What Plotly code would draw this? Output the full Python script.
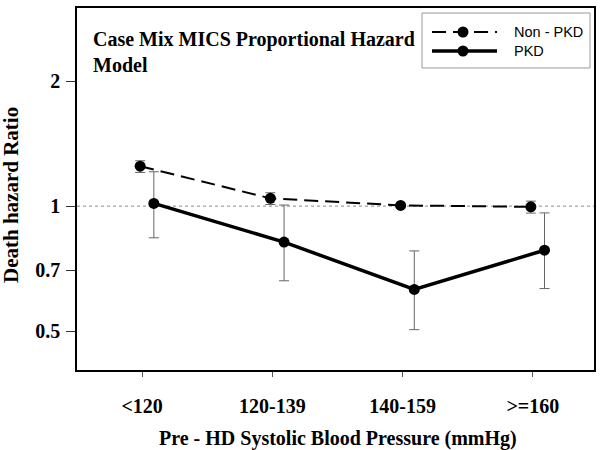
import plotly.graph_objects as go
import numpy as np

categories = ["<120", "120-139", "140-159", ">=160"]
non_pkd = [1.248, 1.044, 1.004, 0.996]
non_pkd_hi = [1.286, 1.077, 1.010, 1.028]
non_pkd_lo = [1.205, 1.009, 0.998, 0.962]
pkd = [1.015, 0.819, 0.630, 0.783]
pkd_hi = [1.21, 1.006, 0.78, 0.963]
pkd_lo = [0.839, 0.661, 0.504, 0.633]
y_ticks = [0.5, 0.7, 1, 2]
series_names = ["Non - PKD", "PKD"]

pos = np.arange(len(categories))
x_non = pos - 0.015
x_pkd = pos + 0.09

serif = "Liberation Serif, Times New Roman, serif"
sans = "Liberation Sans, Arial, sans-serif"
NON_DASH = "14px,7px"
fig = go.Figure()

fig.add_trace(go.Scatter(
    x=[-0.5, 3.6], y=[1, 1], mode="lines",
    line=dict(color="#888888", width=1, dash="dot"),
    showlegend=False, hoverinfo="skip"))

fig.add_trace(go.Scatter(
    x=x_non, y=non_pkd, mode="lines+markers", name=series_names[0],
    line=dict(color="black", width=2, dash=NON_DASH),
    marker=dict(color="black", size=11), showlegend=False,
    error_y=dict(type="data", symmetric=False,
                 array=[h - v for h, v in zip(non_pkd_hi, non_pkd)],
                 arrayminus=[v - l for l, v in zip(non_pkd_lo, non_pkd)],
                 color="#666666", thickness=1, width=5)))

fig.add_trace(go.Scatter(
    x=x_pkd, y=pkd, mode="lines+markers", name=series_names[1],
    line=dict(color="black", width=3.5),
    marker=dict(color="black", size=11), showlegend=False,
    error_y=dict(type="data", symmetric=False,
                 array=[h - v for h, v in zip(pkd_hi, pkd)],
                 arrayminus=[v - l for l, v in zip(pkd_lo, pkd)],
                 color="#666666", thickness=1, width=5)))

# Title
fig.add_annotation(
    text="Case Mix MICS Proportional Hazard<br>Model",
    xref="paper", yref="paper", x=0.027, y=0.95,
    xanchor="left", yanchor="top", align="left", showarrow=False,
    font=dict(family=serif, size=20, color="black", weight="bold"))

# Y axis title
fig.add_annotation(
    text="Death hazard Ratio", textangle=-90,
    xref="paper", yref="paper", x=-0.128, y=0.483,
    xanchor="center", yanchor="middle", showarrow=False,
    font=dict(family=serif, size=21, color="black", weight="bold"))

# X axis title
fig.add_annotation(
    text="Pre - HD Systolic Blood Pressure (mmHg)",
    xref="paper", yref="paper", x=0.505, y=-0.188,
    xanchor="center", yanchor="middle", showarrow=False,
    font=dict(family=serif, size=20, color="black", weight="bold"))

# Manual legend (paper coordinates)
lx0, lx1, ly0, ly1 = 0.6673, 0.9923, 0.8343, 0.9862
fig.add_shape(type="rect", xref="paper", yref="paper",
              x0=lx0, x1=lx1, y0=ly0, y1=ly1,
              line=dict(color="#999999", width=1), fillcolor="white", layer="above")
leg_rows = [0.9337, 0.8812]
leg_styles = [dict(width=2, dash=NON_DASH), dict(width=3.5, dash="solid")]
for name, yy, st in zip(series_names, leg_rows, leg_styles):
    fig.add_shape(type="line", xref="paper", yref="paper",
                  x0=0.6867, x1=0.8124, y0=yy, y1=yy,
                  line=dict(color="black", **st), layer="above")
    fig.add_shape(type="circle", xref="paper", yref="paper",
                  xsizemode="pixel", ysizemode="pixel",
                  xanchor=0.7466, yanchor=yy, x0=-5.5, x1=5.5, y0=-5.5, y1=5.5,
                  line=dict(color="black", width=0), fillcolor="black", layer="above")
    fig.add_annotation(text=name, xref="paper", yref="paper",
                       x=0.8414, y=yy, xanchor="left", yanchor="middle",
                       showarrow=False,
                       font=dict(family=sans, size=14.5, color="black"))

fig.update_layout(
    width=600, height=450,
    margin=dict(l=77, r=6, t=8, b=80),
    plot_bgcolor="white", paper_bgcolor="white",
    showlegend=False,
    xaxis=dict(
        range=[-0.5, 3.47], tickvals=list(pos), ticktext=categories,
        automargin=False,
        showgrid=False, zeroline=False, showline=True, linecolor="black",
        linewidth=1.5, mirror=True, ticks="outside", ticklen=5,
        tickcolor="#555555", ticklabelstandoff=12,
        tickfont=dict(family=serif, size=20, color="black", weight="bold")),
    yaxis=dict(
        type="log", range=[np.log10(0.403), np.log10(3.0)],
        tickvals=y_ticks, ticktext=[str(t) for t in y_ticks],
        automargin=False,
        showgrid=False, zeroline=False, showline=True, linecolor="black",
        linewidth=1.5, mirror=True, ticks="outside", ticklen=9,
        tickcolor="#333333", ticklabelstandoff=2,
        tickfont=dict(family=serif, size=20, color="black", weight="bold")),
)

fig.write_html("out.html", post_script="document.body.style.margin='0px';",
               config={"displayModeBar": False})
